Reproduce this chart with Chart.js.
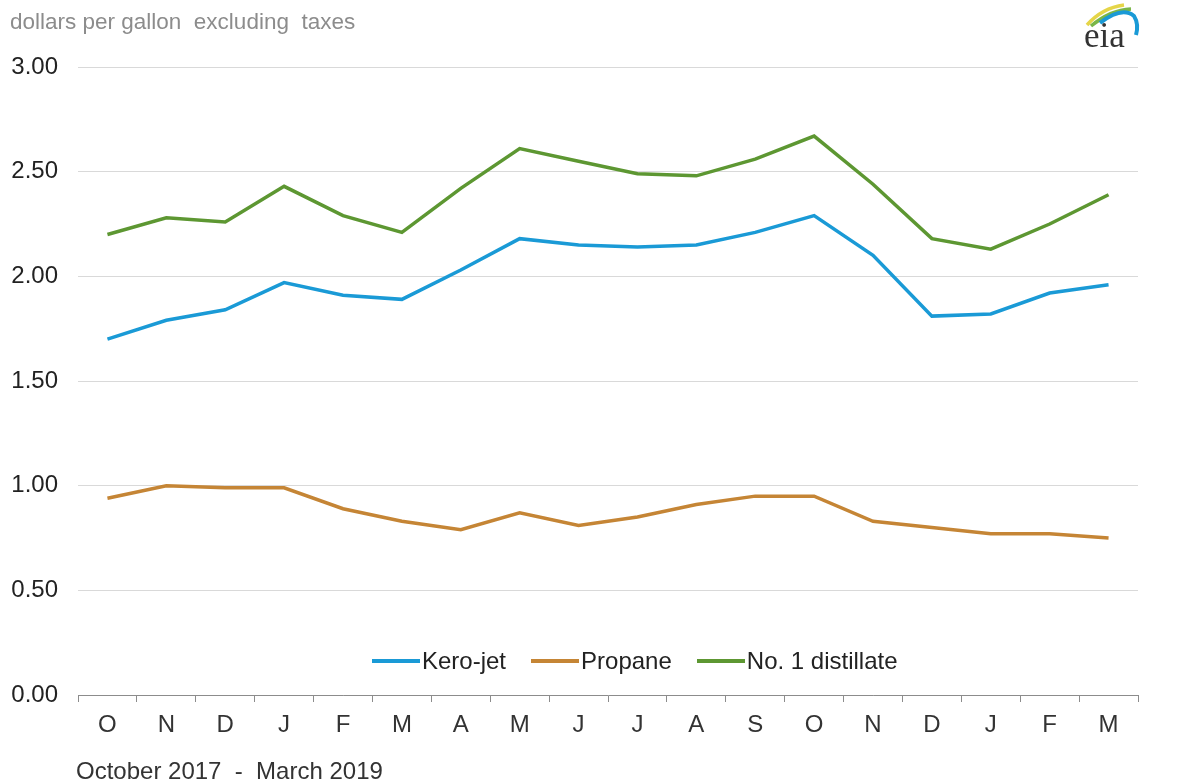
<!DOCTYPE html>
<html>
<head>
<meta charset="utf-8">
<script src="https://cdn.jsdelivr.net/npm/chart.js@4"></script>
<style>
    body { margin: 0; background: #fff; font-family: "Liberation Sans", Arial, sans-serif; }
    #wrap { position: relative; width: 1203px; height: 783px; }
    #units { position: absolute; left: 10px; top: 9px; font-size: 22.5px; color: #8c8c8c; white-space: pre; }
    #period { position: absolute; left: 76px; top: 757px; font-size: 24px; color: #333; white-space: pre; }
    #legend { position: absolute; left: 372px; top: 647px; display: flex; align-items: center; font-size: 24px; color: #222; }
    #legend .item { display: flex; align-items: center; margin-right: 25px; }
    #legend .swatch { width: 48px; height: 4px; margin-right: 2px; }
    #logo { position: absolute; left: 1060px; top: 0px; }
</style>
</head>
<body>
<div id="wrap">
    <canvas id="fuelChart" width="1203" height="783"></canvas>
    <div id="units">dollars per gallon  excluding  taxes</div>
    <div id="period">October 2017  -  March 2019</div>
    <div id="legend"></div>
    <svg id="logo" width="90" height="60" viewBox="0 0 90 60">
        <path d="M27 25 Q 42 8, 64 5" stroke="#e5d548" stroke-width="3.5" fill="none"/>
        <path d="M31 26 Q 50 10, 71 9" stroke="#7ab648" stroke-width="3.5" fill="none"/>
        <path d="M40 23 Q 62 6, 74 16 Q 79 24, 76 35" stroke="#1a9ad6" stroke-width="4" fill="none"/>
        <text x="24" y="47" font-family="Liberation Serif, DejaVu Serif, serif" font-size="35" fill="#333">eia</text>
    </svg>
</div>
<script>
const months = ["O", "N", "D", "J", "F", "M", "A", "M", "J", "J", "A", "S", "O", "N", "D", "J", "F", "M"];

const keroJet = [1.70, 1.79, 1.84, 1.97, 1.91, 1.89, 2.03, 2.18, 2.15, 2.14, 2.15, 2.21, 2.29, 2.10, 1.81, 1.82, 1.92, 1.96];
const propane = [0.94, 1.00, 0.99, 0.99, 0.89, 0.83, 0.79, 0.87, 0.81, 0.85, 0.91, 0.95, 0.95, 0.83, 0.80, 0.77, 0.77, 0.75];
const distillate = [2.20, 2.28, 2.26, 2.43, 2.29, 2.21, 2.42, 2.61, 2.55, 2.49, 2.48, 2.56, 2.67, 2.44, 2.18, 2.13, 2.25, 2.39];

const seriesNames = ["Kero-jet", "Propane", "No. 1 distillate"];
const seriesColors = ["#1a9ad6", "#c58535", "#5d9732"];

const ctx = document.getElementById("fuelChart").getContext("2d");
new Chart(ctx, {
    type: "line",
    data: {
        labels: months,
        datasets: [keroJet, propane, distillate].map((values, i) => ({
            label: seriesNames[i],
            data: values,
            borderColor: seriesColors[i],
            backgroundColor: seriesColors[i],
            borderWidth: 3.5,
            pointRadius: 0,
            tension: 0,
        })),
    },
    options: {
        responsive: false,
        animation: false,
        layout: { padding: { left: 0, right: 65, top: 67, bottom: 28 } },
        plugins: {
            legend: { display: false },
            tooltip: { enabled: false },
        },
        scales: {
            x: {
                offset: true,
                grid: { offset: true, drawOnChartArea: false, drawTicks: true, tickLength: 7, color: "#8c8c8c" },
                border: { display: true, color: "#8c8c8c", width: 1 },
                ticks: { color: "#333", padding: 9, font: { family: "Liberation Sans", size: 24 }, maxRotation: 0, autoSkip: false },
                afterFit: (s) => { s.height = 60; },
            },
            y: {
                min: 0,
                max: 3,
                grid: { color: "#d9d9d9", drawTicks: false },
                border: { display: false },
                ticks: {
                    stepSize: 0.5,
                    padding: 20,
                    color: "#222",
                    font: { family: "Liberation Sans", size: 24 },
                    callback: (v) => v.toFixed(2),
                },
                afterFit: (s) => { s.width = 78; },
            },
        },
    },
});

const legend = document.getElementById("legend");
legend.innerHTML = seriesNames
    .map((name, i) => `<div class="item"><span class="swatch" style="background:${seriesColors[i]}"></span>${name}</div>`)
    .join("");
</script>
</body>
</html>
